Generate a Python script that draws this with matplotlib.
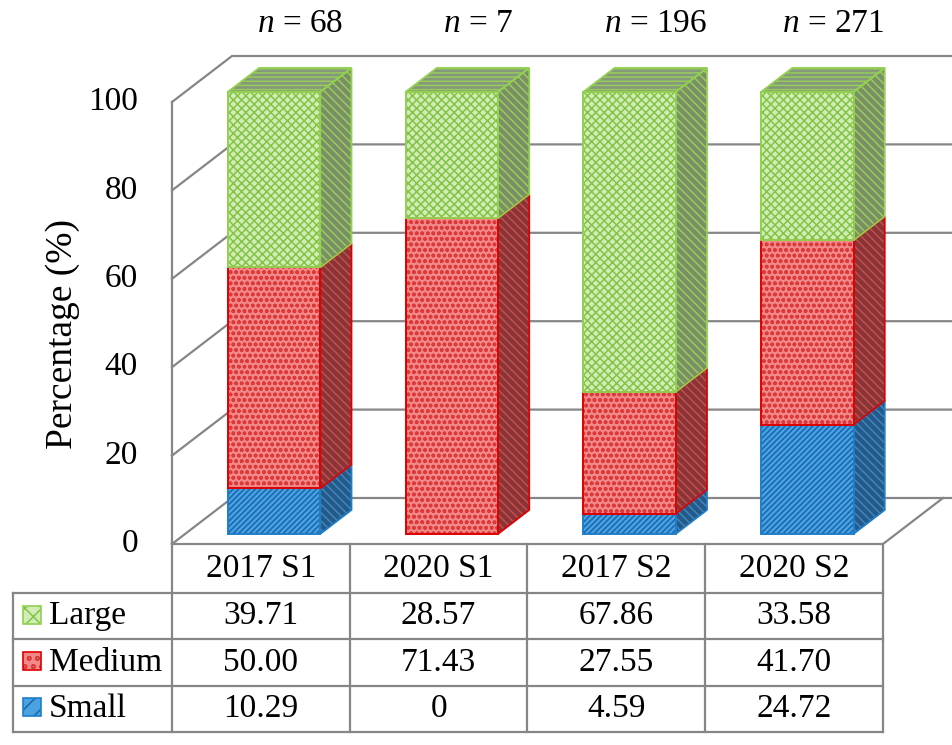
import numpy as np
import matplotlib
matplotlib.use('Agg')
import matplotlib.pyplot as plt
from matplotlib.patches import Polygon, Rectangle

#==========================================================
# Data
#==========================================================
groups = ['2017 S1', '2020 S1', '2017 S2', '2020 S2']
n_labels = ['68', '7', '196', '271']
sizes = ['Large', 'Medium', 'Small']
large = [39.71, 28.57, 67.86, 33.58]
medium = [50.00, 71.43, 27.55, 41.70]
small = [10.29, 0.0, 4.59, 24.72]
yticks = [0, 20, 40, 60, 80, 100]

#==========================================================
# Style
#==========================================================
plt.rcParams['font.family'] = ['Liberation Serif', 'DejaVu Serif']
plt.rcParams['mathtext.fontset'] = 'custom'
plt.rcParams['mathtext.rm'] = 'Liberation Serif'
plt.rcParams['mathtext.it'] = 'Liberation Serif:italic'
plt.rcParams['hatch.linewidth'] = 1.1

W, H = 953, 745
fig = plt.figure(figsize=(W/100, H/100), dpi=100)
# front plane of the plot box, in pixels
x0p, x1p, y0p, y1p = 172, 883, 544, 102
ax = fig.add_axes([x0p/W, (H-y0p)/H, (x1p-x0p)/W, (y0p-y1p)/H])
ax.set_xlim(-0.5, 3.5)
ax.set_ylim(0, 100)
ax.axis('off')

px_x = (x1p-x0p)/4.0       # pixels per category
px_y = (y0p-y1p)/100.0     # pixels per percent
DX = 60/px_x               # full depth offset in data units
DY = 46/px_y
grid_c = '#868686'

def proj(x, y, d):
    return (x + d*DX, y + d*DY)

# walls and gridlines
xl, xr = -0.5, 3.5
for v in yticks:
    a = proj(xl, v, 0); b = proj(xl, v, 1); c = proj(xr + 0.08, v, 1)
    ax.plot([a[0], b[0], c[0]], [a[1], b[1], c[1]], color=grid_c, lw=1.6,
            clip_on=False, zorder=1, solid_joinstyle='miter')
ax.plot([xl, xl], [0, 100], color=grid_c, lw=1.6, clip_on=False, zorder=1)
fr = proj(xr, 0, 1)
ax.plot([xl, xr, fr[0]], [0, 0, fr[1]], color=grid_c, lw=1.6, clip_on=False, zorder=1)

for v in yticks:
    ax.text(xl - 34/px_x, v, str(v), fontsize=24, ha='right', va='center')
ax.text(xl - 109/px_x, 47.5, 'Percentage (%)', fontsize=27, rotation=90,
        ha='center', va='center')

#==========================================================
# 3D-look bars
#==========================================================
styles = {
    'Large':  dict(front='#d2ecb8', fh='#84c444', side='#7a8f66', sh='#98cc5c',
                   top='#86987a', th='#96cc5e', edge='#92d050',
                   hf='xxxx', hs='\\\\\\\\', ht='----'),
    'Medium': dict(front='#f38888', fh='#dc3a3a', side='#8a3436', sh='#c05052',
                   top='#a04848', th='#d06060', edge='#e00000',
                   hf='ooo', hs='\\\\\\\\', ht='----'),
    'Small':  dict(front='#4aa2e0', fh='#1766b0', side='#245a88', sh='#4284be',
                   top='#3a6f9e', th='#4a8cc4', edge='#1f7ec8',
                   hf='//////', hs='\\\\\\\\', ht='----'),
}
vals = {'Large': large, 'Medium': medium, 'Small': small}
order = ['Small', 'Medium', 'Large']
d0, d1, bw = 0.22, 0.74, 0.52

def face(pts, fc, hc, hatch, z):
    ax.add_patch(Polygon(pts, closed=True, facecolor=fc, edgecolor=hc, hatch=hatch,
                         lw=0, zorder=z, clip_on=False))

for i in range(len(groups)):
    bottom = 0.0
    segs = [(s, vals[s][i]) for s in order if vals[s][i] > 0]
    for k, (s, v) in enumerate(segs):
        st = styles[s]
        top = bottom + v
        xa = i - bw/2; xb = i + bw/2
        # right side face
        side = [proj(xb, bottom, d0), proj(xb, bottom, d1), proj(xb, top, d1), proj(xb, top, d0)]
        face(side, st['side'], st['sh'], st['hs'], 3)
        ax.add_patch(Polygon(side, closed=True, fill=False, edgecolor=st['edge'], lw=1.3,
                             zorder=3.5, clip_on=False))
        # top face of the highest segment
        if k == len(segs) - 1:
            tp = [proj(xa, top, d0), proj(xb, top, d0), proj(xb, top, d1), proj(xa, top, d1)]
            face(tp, st['top'], st['th'], st['ht'], 3)
            ax.add_patch(Polygon(tp, closed=True, fill=False, edgecolor=st['edge'], lw=1.3,
                                 zorder=3.5, clip_on=False))
        # front face
        fx, fy = proj(i, bottom, d0)
        ax.bar(fx, v, bottom=fy, width=bw, color=st['front'], edgecolor=st['fh'],
               hatch=st['hf'], lw=0, zorder=4, clip_on=False)
        ax.bar(fx, v, bottom=fy, width=bw, fill=False, edgecolor=st['edge'],
               lw=1.4, zorder=4.5, clip_on=False)
        bottom = top

for i, n in enumerate(n_labels):
    ax.text(i + 0.22, 100 + 78/px_y, r'$n$ = ' + n, fontsize=24,
            ha='center', va='center')

#==========================================================
# data table
#==========================================================
hdr = 49/px_y
row = 46.3/px_y
xt = xl - (x0p - 13)/px_x
ys = [0, -hdr, -hdr - row, -hdr - 2*row, -hdr - 3*row]
for j, y in enumerate(ys[1:]):
    ax.plot([xt, xr], [y, y], color=grid_c, lw=1.6, clip_on=False)
ax.plot([xt, xt], [ys[1], ys[-1]], color=grid_c, lw=1.6, clip_on=False)
for k in range(5):
    ax.plot([xl + k, xl + k], [0, ys[-1]], color=grid_c, lw=1.6, clip_on=False)

for i, g in enumerate(groups):
    ax.text(i, -hdr/2, g, fontsize=24, ha='center', va='center')

key_w = 18/px_x; key_h = 18/px_y
for r, s in enumerate(sizes):
    yc = (ys[r+1] + ys[r+2]) / 2
    st = styles[s]
    kx = xl - (x0p - 23)/px_x
    ax.add_patch(Rectangle((kx, yc - key_h/2 + 0.3), key_w, key_h, facecolor=st['front'],
                           edgecolor=st['fh'], hatch=st['hf'][:2], lw=0, clip_on=False))
    ax.add_patch(Rectangle((kx, yc - key_h/2 + 0.3), key_w, key_h, fill=False,
                           edgecolor=st['edge'], lw=1.2, clip_on=False))
    ax.text(xl - (x0p - 49)/px_x, yc, s, fontsize=24, ha='left', va='center')
    for i in range(len(groups)):
        v = vals[s][i]
        txt = '0' if v == 0 else '%.2f' % v
        ax.text(i, yc, txt, fontsize=24, ha='center', va='center')

plt.savefig('out.png', dpi=100)
plt.close()
